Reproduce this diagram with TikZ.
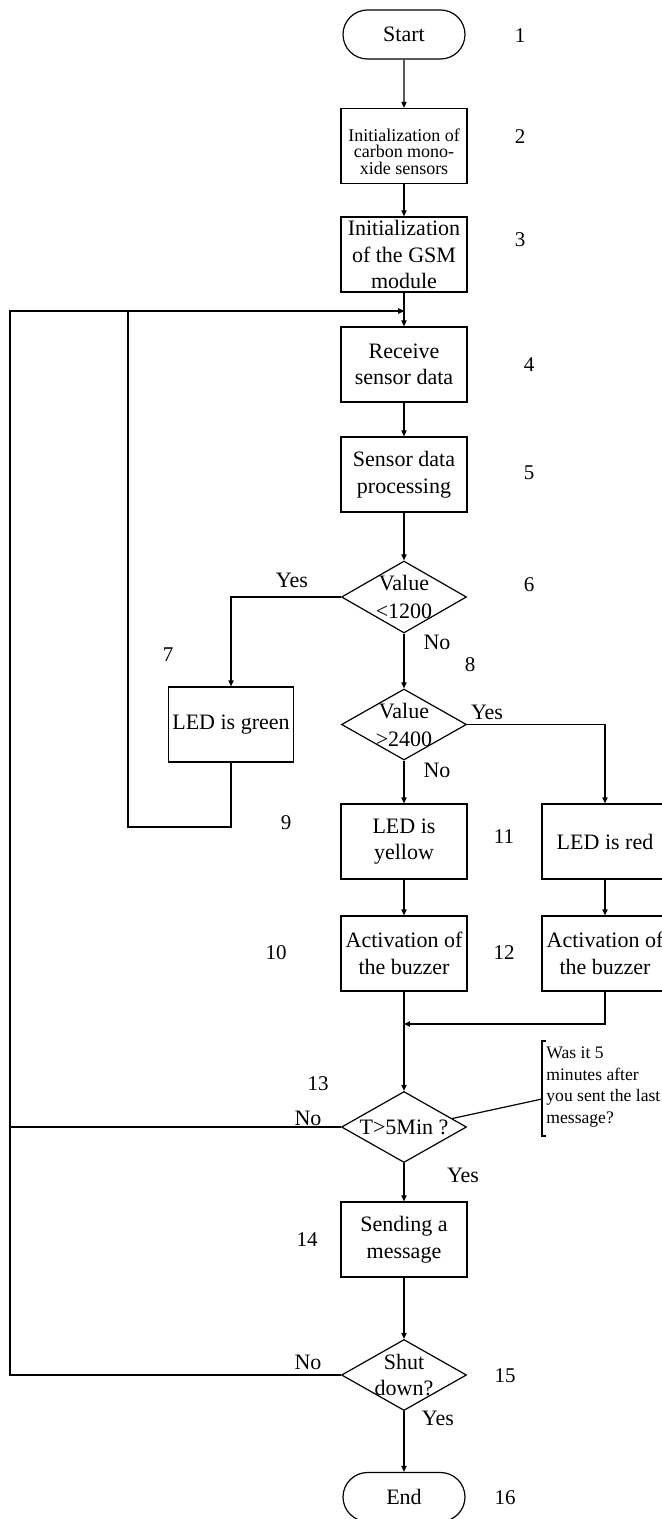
\documentclass[tikz,border=0pt]{standalone}
\usepackage{fontspec}
\setmainfont{Liberation Serif}
\usetikzlibrary{arrows.meta,positioning,shapes.geometric,shapes.misc}

\begin{document}
\begin{tikzpicture}[x=0.5pt,y=-0.5pt]
\tikzset{
  flownode/.style={draw=black,line width=0.6pt,inner sep=1pt,align=center,font=\fontsize{11}{13.3}\selectfont},
  procbox/.style={flownode,rectangle,minimum width=63pt,minimum height=37.5pt},
  termbox/.style={flownode,rounded rectangle,minimum width=63pt,minimum height=24.5pt},
  decbox/.style={flownode,diamond,inner sep=0pt,minimum width=62.5pt},
  dectext/.style={align=center,inner sep=0pt,font=\fontsize{11}{14}\selectfont},
  steplabel/.style={inner sep=0pt,font=\fontsize{10.5}{12}\selectfont},
  branchlabel/.style={inner sep=0pt,font=\fontsize{11}{13}\selectfont},
  notetext/.style={inner sep=0pt,align=left,font=\fontsize{8.8}{10.9}\selectfont},
  flowline/.style={draw=black,line width=0.6pt},
  flowarrow/.style={flowline,-{Triangle[length=3pt,width=2.6pt]}}
}
\useasboundingbox (0,0) rectangle (662,1519);
% main column
\node[termbox] (start) at (404,34.5) {Start};
\node[procbox,font=\fontsize{9}{8.4}\selectfont] (initco) at (404,146) {\rule{0pt}{12pt}Initialization of\\carbon mono-\\xide sensors};
\node[procbox] (initgsm) at (404,254.5) {Initialization\\of the GSM\\module};
\node[procbox] (receive) at (404,364.5) {Receive\\sensor data};
\node[procbox] (process) at (404,474.5) {Sensor data\\processing};
\node[decbox,minimum height=36pt,label={[dectext]center:{Value\\<1200}}] (dec6) at (404,597) {};
\node[procbox,minimum width=62.5pt] (green) at (231,724.5) {LED is green};
\node[decbox,minimum height=35.5pt,label={[dectext]center:{Value\\>2400}}] (dec8) at (404,724.5) {};
\node[procbox] (yellow) at (404,841.5) {LED is\\yellow};
\node[procbox] (red) at (605,841.5) {LED is red};
\node[procbox] (buzzy) at (404,953.5) {Activation of\\the buzzer};
\node[procbox] (buzzr) at (605,953.5) {Activation of\\the buzzer};
\node[decbox,minimum height=35.5pt,label={[dectext]center:T>5Min ?}] (dec13) at (404,1127) {};
\node[procbox] (sendmsg) at (404,1239.5) {Sending a\\message};
\node[decbox,minimum height=35.5pt,label={[dectext,font=\fontsize{11}{12.8}\selectfont]center:{Shut\\down?}}] (dec15) at (404,1375) {};
\node[termbox] (end) at (404,1497) {End};
% side note
\node[notetext,anchor=west] (note) at (546,1087) {Was it 5\\minutes after\\you sent the last\\message?};
% step numbers
\node[steplabel] (s1) at (520,36) {1};
\node[steplabel] (s2) at (520,137) {2};
\node[steplabel] (s3) at (520,240) {3};
\node[steplabel] (s4) at (529,365) {4};
\node[steplabel] (s5) at (529,473) {5};
\node[steplabel] (s6) at (529,585) {6};
\node[steplabel] (s7) at (168,655) {7};
\node[steplabel] (s8) at (470,665) {8};
\node[steplabel] (s9) at (286,823) {9};
\node[steplabel] (s10) at (276,953) {10};
\node[steplabel] (s11) at (504,837) {11};
\node[steplabel] (s12) at (504,953) {12};
\node[steplabel] (s13) at (318,1084) {13};
\node[steplabel] (s14) at (307,1240) {14};
\node[steplabel] (s15) at (505,1376) {15};
\node[steplabel] (s16) at (505,1498) {16};
% branch labels
\node[branchlabel] (yes6) at (292,580) {Yes};
\node[branchlabel] (no6) at (437,642) {No};
\node[branchlabel] (yes8) at (487,712) {Yes};
\node[branchlabel] (no8) at (437,770) {No};
\node[branchlabel] (no13) at (308,1118) {No};
\node[branchlabel] (yes13) at (463,1175) {Yes};
\node[branchlabel] (no15) at (308,1362) {No};
\node[branchlabel] (yes15) at (438,1418) {Yes};
% helper points
\coordinate (loopin) at (404,311);
\coordinate (merge) at (404,1024);
\coordinate (notehook) at (542,1099);
% connectors
\draw[flowarrow] (start) -- (initco);
\draw[flowarrow] (initco) -- (initgsm);
\draw[flowarrow] (initgsm) -- (receive);
\draw[flowarrow] (receive) -- (process);
\draw[flowarrow] (process) -- (dec6);
\draw[flowarrow] (dec6.west) -| (green.north);
\draw[flowarrow] (dec6.south) -- (dec8.north);
\draw[flowarrow] (dec8.east) -| (red.north);
\draw[flowarrow] (dec8.south) -- (yellow.north);
\draw[flowarrow] (yellow) -- (buzzy);
\draw[flowarrow] (red) -- (buzzr);
\draw[flowarrow] (buzzy.south) -- (dec13.north);
\draw[flowarrow] (buzzr.south) |- (merge);
\draw[flowarrow] (dec13.south) -- (sendmsg.north);
\draw[flowarrow] (sendmsg.south) -- (dec15.north);
\draw[flowarrow] (dec15.south) -- (end.north);
% loops back to reading
\draw[flowarrow] (green.south) |- (128,827) |- (loopin);
\draw[flowline] (dec13.west) -- (10,1127);
\draw[flowarrow] (dec15.west) -| (10,311) -- (loopin);
% note bracket
\draw[flowline] (546,1041) -- (542,1041) -- (542,1136) -- (546,1136);
\draw[flowline] (dec13.10) -- (notehook);
\end{tikzpicture}
\end{document}
